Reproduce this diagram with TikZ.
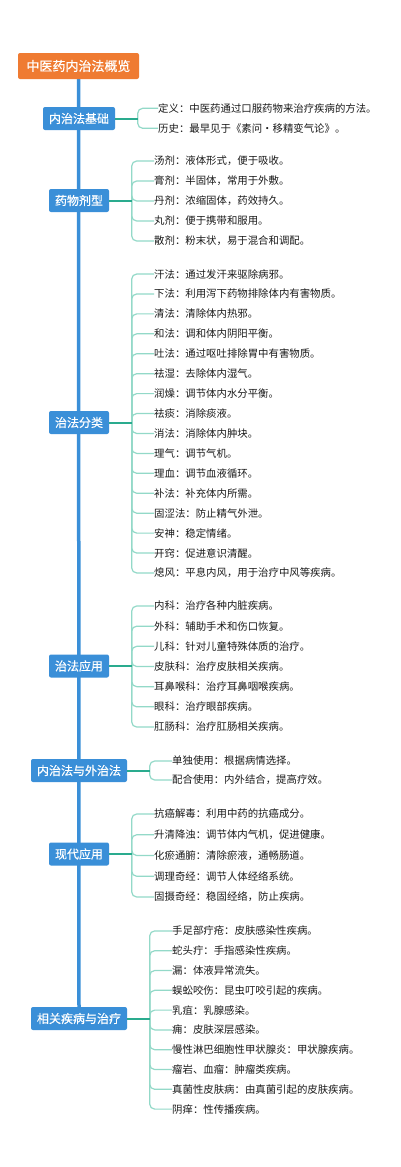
\documentclass[tikz,border=0pt]{standalone}
\usepackage{fontspec}
\usetikzlibrary{backgrounds}
\setmainfont{Noto Sans CJK SC}
\newfontfamily\boxfont[FakeBold=0.5]{Noto Sans CJK SC}
\definecolor{rootc}{HTML}{EF7B32}
\definecolor{bluec}{HTML}{3A8FD8}
\definecolor{mainc}{HTML}{2AAB8E}
\definecolor{leafc}{HTML}{93D9C8}
\definecolor{textc}{HTML}{1A1A1A}
\begin{document}
\begin{tikzpicture}[x=1pt,y=-1pt,
 rootbox/.style={fill=rootc, text=white, rounded corners=2pt, minimum height=26pt, minimum width=121pt, inner xsep=8pt, inner ysep=0pt, font=\boxfont\fontsize{13}{13}\selectfont},
 lvbox/.style={fill=bluec, text=white, rounded corners=2pt, minimum height=23pt, inner xsep=6pt, inner ysep=0pt, font=\boxfont\fontsize{12}{12}\selectfont},
 leaf/.style={anchor=west, inner sep=0pt, text=textc, font=\fontsize{10.4}{10.4}\selectfont},
 trunk/.style={draw=bluec, line width=3.5pt},
 mainline/.style={draw=mainc, line width=2pt},
 leafline/.style={draw=leafc, line width=1.2pt, rounded corners=5pt}]
\useasboundingbox (0,0) rectangle (400,1167);

% root and level-1 nodes
\node[rootbox] (root) at (78.5,66) {中医药内治法概览};
\node[lvbox] (L1) at (79,118.5) {内治法基础};
\node[lvbox] (L2) at (79,200.5) {药物剂型};
\node[lvbox] (L3) at (79,422.5) {治法分类};
\node[lvbox] (L4) at (79,666) {治法应用};
\node[lvbox] (L5) at (79,770.5) {内治法与外治法};
\node[lvbox] (L6) at (79,854) {现代应用};
\node[lvbox] (L7) at (79,1018.5) {相关疾病与治疗};

% trunk behind boxes
\begin{scope}[on background layer]
\fill[white] (0,0) rectangle (400,1167);
\draw[trunk] (root.south) -- (L7.north);
\end{scope}
\foreach \n in {L1,L2,L3,L4,L5,L6,L7} {\path (\n.east) ++(22.5,0) coordinate (b\n);}

% group 1
\foreach \t [count=\i] in {定义：中医药通过口服药物来治疗疾病的方法。, 历史：最早见于《素问·移精变气论》。} {
  \node[leaf] (a\i) at (158,{118.3+(\i-1.5)*20}) {\t};
  \draw[leafline] (bL1) |- (a\i.west);
}
\draw[mainline] (L1.east) -- (bL1);

% group 2
\foreach \t [count=\i] in {汤剂：液体形式，便于吸收。, 膏剂：半固体，常用于外敷。, 丹剂：浓缩固体，药效持久。, 丸剂：便于携带和服用。, 散剂：粉末状，易于混合和调配。} {
  \node[leaf] (b\i) at (154,{201+(\i-3)*20}) {\t};
  \draw[leafline] (bL2) |- (b\i.west);
}
\draw[mainline] (L2.east) -- (bL2);

% group 3
\foreach \t [count=\i] in {汗法：通过发汗来驱除病邪。, 下法：利用泻下药物排除体内有害物质。, 清法：清除体内热邪。, 和法：调和体内阴阳平衡。, 吐法：通过呕吐排除胃中有害物质。, 祛湿：去除体内湿气。, 润燥：调节体内水分平衡。, 祛痰：消除痰液。, 消法：消除体内肿块。, 理气：调节气机。, 理血：调节血液循环。, 补法：补充体内所需。, 固涩法：防止精气外泄。, 安神：稳定情绪。, 开窍：促进意识清醒。, 熄风：平息内风，用于治疗中风等疾病。} {
  \node[leaf] (c\i) at (154,{423.5+(\i-8.5)*19.93}) {\t};
  \draw[leafline] (bL3) |- (c\i.west);
}
\draw[mainline] (L3.east) -- (bL3);

% group 4
\foreach \t [count=\i] in {内科：治疗各种内脏疾病。, 外科：辅助手术和伤口恢复。, 儿科：针对儿童特殊体质的治疗。, 皮肤科：治疗皮肤相关疾病。, 耳鼻喉科：治疗耳鼻咽喉疾病。, 眼科：治疗眼部疾病。, 肛肠科：治疗肛肠相关疾病。} {
  \node[leaf] (d\i) at (154,{666.5+(\i-4)*20.17}) {\t};
  \draw[leafline] (bL4) |- (d\i.west);
}
\draw[mainline] (L4.east) -- (bL4);

% group 5
\foreach \t [count=\i] in {单独使用：根据病情选择。, 配合使用：内外结合，提高疗效。} {
  \node[leaf] (e\i) at (172,{770.5+(\i-1.5)*19}) {\t};
  \draw[leafline] (bL5) |- (e\i.west);
}
\draw[mainline] (L5.east) -- (bL5);

% group 6
\foreach \t [count=\i] in {抗癌解毒：利用中药的抗癌成分。, 升清降浊：调节体内气机，促进健康。, 化瘀通腑：清除瘀液，通畅肠道。, 调理奇经：调节人体经络系统。, 固摄奇经：稳固经络，防止疾病。} {
  \node[leaf] (f\i) at (154,{855.5+(\i-3)*20.75}) {\t};
  \draw[leafline] (bL6) |- (f\i.west);
}
\draw[mainline] (L6.east) -- (bL6);

% group 7
\foreach \t [count=\i] in {手足部疔疮：皮肤感染性疾病。, 蛇头疔：手指感染性疾病。, 漏：体液异常流失。, 蜈蚣咬伤：昆虫叮咬引起的疾病。, 乳疽：乳腺感染。, 痈：皮肤深层感染。, 慢性淋巴细胞性甲状腺炎：甲状腺疾病。, 瘤岩、血瘤：肿瘤类疾病。, 真菌性皮肤病：由真菌引起的皮肤疾病。, 阴痒：性传播疾病。} {
  \node[leaf] (g\i) at (172,{1020+(\i-5.5)*19.8}) {\t};
  \draw[leafline] (bL7) |- (g\i.west);
}
\draw[mainline] (L7.east) -- (bL7);
\end{tikzpicture}
\end{document}
